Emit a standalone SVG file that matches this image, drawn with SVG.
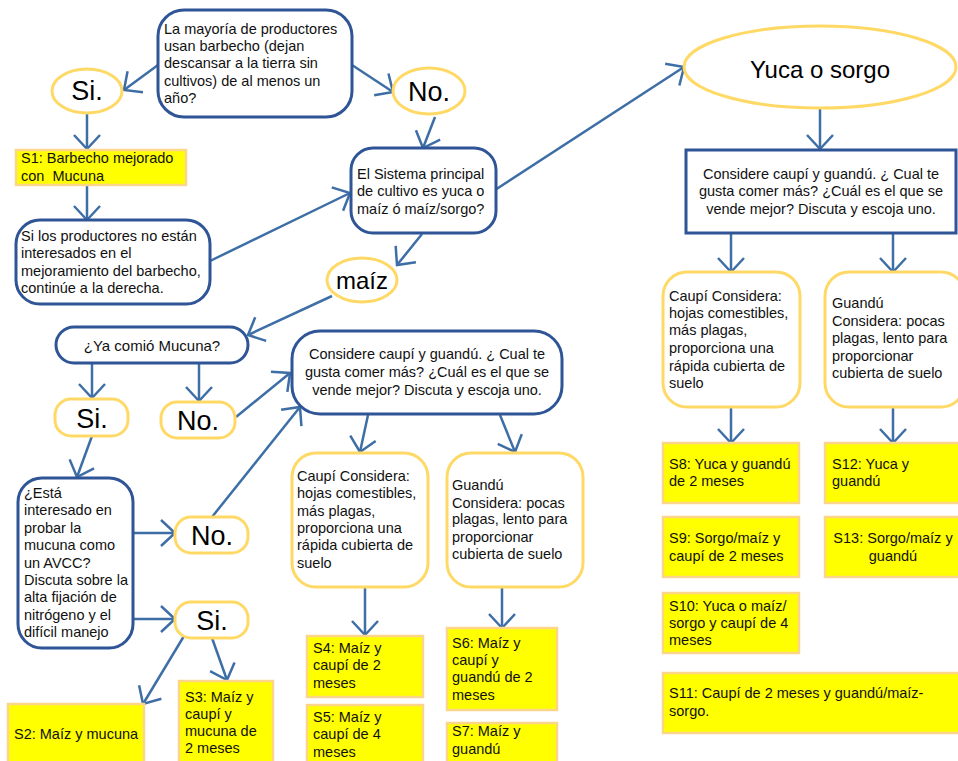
<svg xmlns="http://www.w3.org/2000/svg" width="958" height="761" viewBox="0 0 958 761">
<style>
.q{fill:#fff;stroke:#2F5597;stroke-width:3}
.y{fill:#fff;stroke:#FFD966;stroke-width:3}
.s{fill:#FFFF00;stroke:#FAD58A;stroke-width:2.5}
.t{font-family:"Liberation Sans",Arial,sans-serif;font-size:14.5px;fill:#111}
.big{font-family:"Liberation Sans",Arial,sans-serif;font-size:27px;fill:#000;text-anchor:middle}
.c{text-anchor:middle}
.cn line{stroke:#3E6EA6;stroke-width:2.5;marker-end:url(#ah)}
</style>
<defs>
<marker id="ah" markerUnits="userSpaceOnUse" markerWidth="18" markerHeight="30" viewBox="0 0 18 30" refX="16" refY="15" orient="auto">
<path d="M2,2 L16,15 L2,28" fill="none" stroke="#3E6EA6" stroke-width="2.5"/>
</marker>
</defs>
<rect width="958" height="761" fill="#fff"/>

<g class="cn" id="connectors">
<line x1="158" y1="65" x2="124" y2="90"/>
<line x1="352" y1="65" x2="393" y2="92"/>
<line x1="87" y1="114" x2="87" y2="149"/>
<line x1="87" y1="186" x2="87" y2="220"/>
<line x1="435" y1="117" x2="423" y2="148"/>
<line x1="210" y1="261" x2="350" y2="193"/>
<line x1="495" y1="190" x2="684" y2="67"/>
<line x1="820" y1="108" x2="820" y2="149"/>
<line x1="731" y1="233" x2="731" y2="272"/>
<line x1="893" y1="233" x2="893" y2="272"/>
<line x1="731" y1="407" x2="731" y2="443"/>
<line x1="893" y1="407" x2="893" y2="443"/>
<line x1="422" y1="234" x2="397" y2="265"/>
<line x1="332" y1="296" x2="248" y2="335"/>
<line x1="92" y1="363" x2="92" y2="398"/>
<line x1="199" y1="363" x2="199" y2="401"/>
<line x1="236" y1="417" x2="290" y2="373"/>
<line x1="92" y1="436" x2="77" y2="477"/>
<line x1="133" y1="533" x2="175" y2="533"/>
<line x1="133" y1="619" x2="175" y2="619"/>
<line x1="212" y1="517" x2="300" y2="407"/>
<line x1="184" y1="636" x2="143" y2="704"/>
<line x1="212" y1="638" x2="227" y2="680"/>
<line x1="368" y1="415" x2="360" y2="452"/>
<line x1="500" y1="415" x2="515" y2="452"/>
<line x1="365" y1="587" x2="365" y2="635"/>
<line x1="502" y1="587" x2="502" y2="628"/>
</g>

<g id="q1"><rect class="q" x="158" y="10" width="194" height="107" rx="26"/>
<text class="t" x="164" y="34">La mayoría de productores</text>
<text class="t" x="164" y="51">usan barbecho (dejan</text>
<text class="t" x="164" y="68">descansar a la tierra sin</text>
<text class="t" x="164" y="86">cultivos) de al menos un</text>
<text class="t" x="164" y="103">año?</text></g>

<g id="si1"><ellipse class="y" cx="87" cy="91" rx="35" ry="22"/><text class="big" x="87" y="100">Si.</text></g>
<g id="no1"><ellipse class="y" cx="429" cy="91" rx="36" ry="23"/><text class="big" x="429" y="101">No.</text></g>

<g id="s1"><rect class="s" x="16" y="150" width="170" height="35"/>
<text class="t" x="21" y="163">S1: Barbecho mejorado</text>
<text class="t" x="21" y="181" xml:space="preserve">con  Mucuna</text></g>

<g id="q2"><rect class="q" x="16" y="220" width="194" height="84" rx="24"/>
<text class="t" x="21" y="241">Si los productores no están</text>
<text class="t" x="21" y="258">interesados en el</text>
<text class="t" x="21" y="276">mejoramiento del barbecho,</text>
<text class="t" x="21" y="293">continúe a la derecha.</text></g>

<g id="q3"><rect class="q" x="351" y="148" width="145" height="85" rx="22"/>
<text class="t" x="357" y="179">El Sistema principal</text>
<text class="t" x="357" y="196">de cultivo es yuca o</text>
<text class="t" x="357" y="214">maíz ó maíz/sorgo?</text></g>

<g id="yuca"><ellipse class="y" cx="820" cy="67" rx="136" ry="41"/>
<text x="820" y="78" style="font-family:'Liberation Sans',Arial,sans-serif;font-size:24px;text-anchor:middle;fill:#000">Yuca o sorgo</text></g>

<g id="q4"><rect class="q" x="686" y="150" width="270" height="83"/>
<text class="t c" x="821" y="179">Considere caupí y guandú. ¿ Cual te</text>
<text class="t c" x="821" y="196">gusta comer más? ¿Cuál es el que se</text>
<text class="t c" x="821" y="214">vende mejor? Discuta y escoja uno.</text></g>

<g id="caupiR"><rect class="y" x="663" y="272" width="137" height="135" rx="24"/>
<text class="t" x="669" y="301">Caupí Considera:</text>
<text class="t" x="669" y="318">hojas comestibles,</text>
<text class="t" x="669" y="335">más plagas,</text>
<text class="t" x="669" y="353">proporciona una</text>
<text class="t" x="669" y="371">rápida cubierta de</text>
<text class="t" x="669" y="388">suelo</text></g>

<g id="guanduR"><rect class="y" x="825" y="272" width="140" height="135" rx="24"/>
<text class="t" x="832" y="308">Guandú</text>
<text class="t" x="832" y="326">Considera: pocas</text>
<text class="t" x="832" y="343">plagas, lento para</text>
<text class="t" x="832" y="361">proporcionar</text>
<text class="t" x="832" y="378">cubierta de suelo</text></g>

<g id="s8"><rect class="s" x="663" y="443" width="136" height="60"/>
<text class="t" x="669" y="469">S8: Yuca y guandú</text>
<text class="t" x="669" y="486">de 2 meses</text></g>
<g id="s12"><rect class="s" x="825" y="443" width="140" height="60"/>
<text class="t" x="832" y="469">S12: Yuca y</text>
<text class="t" x="832" y="486">guandú</text></g>
<g id="s9"><rect class="s" x="663" y="517" width="136" height="60"/>
<text class="t" x="669" y="543">S9: Sorgo/maíz y</text>
<text class="t" x="669" y="561">caupí de 2 meses</text></g>
<g id="s13"><rect class="s" x="825" y="517" width="140" height="60"/>
<text class="t c" x="893" y="543">S13: Sorgo/maíz y</text>
<text class="t c" x="893" y="561">guandú</text></g>
<g id="s10"><rect class="s" x="663" y="593" width="136" height="60"/>
<text class="t" x="669" y="611">S10: Yuca o maíz/</text>
<text class="t" x="669" y="628">sorgo y caupí de 4</text>
<text class="t" x="669" y="645">meses</text></g>
<g id="s11"><rect class="s" x="663" y="673" width="302" height="60"/>
<text class="t" x="669" y="698">S11: Caupí de 2 meses y guandú/maíz-</text>
<text class="t" x="669" y="716">sorgo.</text></g>

<g id="maiz"><ellipse class="y" cx="362" cy="280" rx="35" ry="22"/>
<text x="362" y="289" style="font-family:'Liberation Sans',Arial,sans-serif;font-size:24px;text-anchor:middle;fill:#000">maíz</text></g>

<g id="q5"><rect class="q" x="56" y="327" width="192" height="36" rx="18"/>
<text class="t c" x="152" y="351" style="font-size:15px">¿Ya comió Mucuna?</text></g>

<g id="si2"><rect class="y" x="55" y="399" width="73" height="37" rx="16"/><text class="big" x="92" y="428">Si.</text></g>
<g id="no2"><rect class="y" x="161" y="402" width="74" height="36" rx="16"/><text class="big" x="198" y="430">No.</text></g>

<g id="q6"><rect class="q" x="18" y="478" width="115" height="170" rx="24"/>
<text class="t" x="24" y="498">¿Está</text>
<text class="t" x="24" y="515">interesado en</text>
<text class="t" x="24" y="533">probar la</text>
<text class="t" x="24" y="550">mucuna como</text>
<text class="t" x="24" y="568">un AVCC?</text>
<text class="t" x="24" y="585">Discuta sobre la</text>
<text class="t" x="24" y="602">alta fijación de</text>
<text class="t" x="24" y="620">nitrógeno y el</text>
<text class="t" x="24" y="637">difícil manejo</text></g>

<g id="no3"><rect class="y" x="175" y="517" width="73" height="36" rx="16"/><text class="big" x="212" y="545">No.</text></g>
<g id="si3"><rect class="y" x="175" y="602" width="73" height="36" rx="16"/><text class="big" x="212" y="630">Si.</text></g>

<g id="s2"><rect class="s" x="8" y="704" width="136" height="60"/>
<text class="t" x="14" y="739">S2: Maíz y mucuna</text></g>
<g id="s3"><rect class="s" x="179" y="681" width="94" height="82"/>
<text class="t" x="185" y="702">S3: Maíz y</text>
<text class="t" x="185" y="719">caupí y</text>
<text class="t" x="185" y="736">mucuna de</text>
<text class="t" x="185" y="753">2 meses</text></g>

<g id="q7"><rect class="q" x="292" y="331" width="270" height="83" rx="28"/>
<text class="t c" x="427" y="359">Considere caupí y guandú. ¿ Cual te</text>
<text class="t c" x="427" y="377">gusta comer más? ¿Cuál es el que se</text>
<text class="t c" x="427" y="395">vende mejor? Discuta y escoja uno.</text></g>

<g id="caupiM"><rect class="y" x="292" y="453" width="136" height="134" rx="24"/>
<text class="t" x="297" y="481">Caupí Considera:</text>
<text class="t" x="297" y="498">hojas comestibles,</text>
<text class="t" x="297" y="516">más plagas,</text>
<text class="t" x="297" y="533">proporciona una</text>
<text class="t" x="297" y="550">rápida cubierta de</text>
<text class="t" x="297" y="568">suelo</text></g>

<g id="guanduM"><rect class="y" x="447" y="453" width="136" height="134" rx="24"/>
<text class="t" x="452" y="490">Guandú</text>
<text class="t" x="452" y="508">Considera: pocas</text>
<text class="t" x="452" y="524">plagas, lento para</text>
<text class="t" x="452" y="542">proporcionar</text>
<text class="t" x="452" y="559">cubierta de suelo</text></g>

<g id="s4"><rect class="s" x="307" y="636" width="116" height="61"/>
<text class="t" x="313" y="653">S4: Maíz y</text>
<text class="t" x="313" y="670">caupí de 2</text>
<text class="t" x="313" y="688">meses</text></g>
<g id="s5"><rect class="s" x="307" y="705" width="116" height="60"/>
<text class="t" x="313" y="722">S5: Maíz y</text>
<text class="t" x="313" y="739">caupí de 4</text>
<text class="t" x="313" y="757">meses</text></g>
<g id="s6"><rect class="s" x="447" y="628" width="110" height="82"/>
<text class="t" x="452" y="648">S6: Maíz y</text>
<text class="t" x="452" y="665">caupí y</text>
<text class="t" x="452" y="682">guandú de 2</text>
<text class="t" x="452" y="700">meses</text></g>
<g id="s7"><rect class="s" x="447" y="723" width="110" height="42"/>
<text class="t" x="452" y="736">S7: Maíz y</text>
<text class="t" x="452" y="754">guandú</text></g>
</svg>
